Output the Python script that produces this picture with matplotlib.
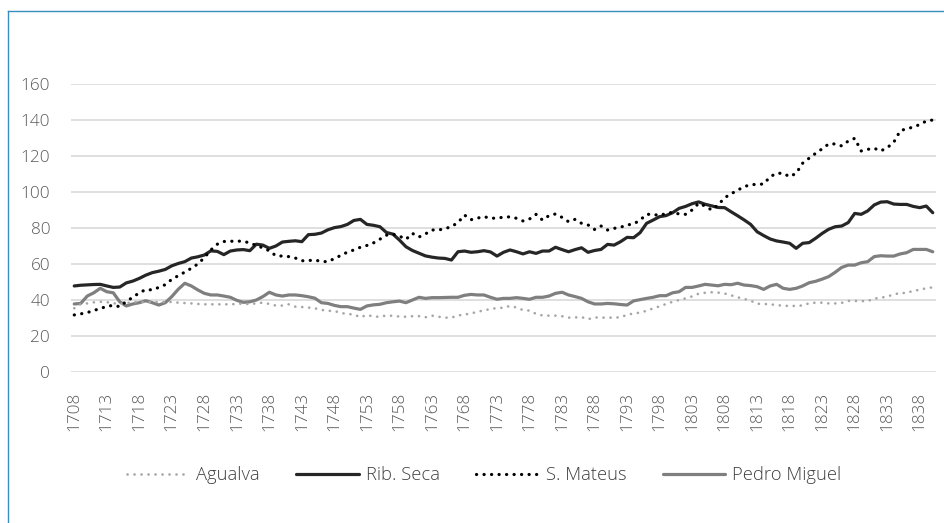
import numpy as np
import matplotlib
matplotlib.use("Agg")
import matplotlib.pyplot as plt
from matplotlib.lines import Line2D

start_year = 1708

agualva = [35.4, 37.8, 38.1, 38.7, 39.0, 38.8, 38.2, 37.8, 38.3, 38.8,
           38.9, 38.9, 38.8, 38.9, 38.9, 38.9, 38.5, 38.3, 38.1, 37.8,
           37.6, 37.6, 37.6, 37.6, 37.6, 37.8, 38.1, 37.6, 38.2, 38.5,
           37.8, 36.9, 36.9, 37.6, 36.3, 36.1, 35.8, 35.4, 34.5, 34.0,
           33.9, 32.8, 32.2, 32.0, 30.4, 31.7, 30.8, 30.7, 31.4, 31.2,
           30.8, 30.7, 31.0, 31.0, 30.4, 31.3, 30.7, 30.2, 30.2, 31.4,
           31.9, 32.5, 33.5, 34.2, 35.0, 35.5, 35.7, 36.7, 35.8, 34.4,
           34.1, 32.3, 31.4, 31.3, 31.3, 31.0, 30.2, 30.3, 30.5, 29.3,
           30.3, 30.2, 30.2, 30.2, 30.4, 31.8, 32.5, 33.0, 34.0, 35.3,
           36.5, 37.8, 39.0, 40.0, 40.9, 42.0, 43.5, 44.0, 44.3, 44.1,
           43.6, 42.6, 41.5, 40.6, 39.6, 37.9, 37.8, 37.6, 37.2, 36.8,
           36.7, 36.7, 37.0, 38.2, 38.5, 38.5, 38.1, 38.1, 38.4, 39.5,
           39.5, 39.4, 39.4, 40.8, 41.2, 42.0, 43.0, 44.0, 43.8, 45.2,
           45.6, 46.6, 47.0]

rib_seca = [47.8, 48.2, 48.4, 48.6, 48.7, 47.8, 47.0, 47.2, 49.5, 50.5,
            52.0, 53.8, 55.2, 56.0, 57.0, 59.0, 60.3, 61.3, 63.3, 64.0,
            65.0, 67.3, 67.0, 65.2, 67.2, 67.8, 68.0, 67.4, 71.0, 70.5,
            68.7, 70.0, 72.2, 72.6, 72.9, 72.4, 76.3, 76.5, 77.2, 79.0,
            80.2, 80.8, 82.0, 84.2, 84.8, 82.0, 81.5, 80.7, 77.5, 76.6,
            73.3, 69.6, 67.5, 66.0, 64.5, 63.8, 63.3, 63.1, 62.2, 66.8,
            67.2, 66.5, 66.8, 67.4, 66.7, 64.4, 66.5, 67.8, 66.8, 65.6,
            66.8, 65.9, 67.2, 67.2, 69.3, 68.0, 66.8, 68.0, 69.0, 66.5,
            67.5, 68.1, 70.9, 70.5, 72.4, 74.8, 74.6, 77.4, 82.6, 84.4,
            86.3, 86.9, 88.5, 90.9, 92.0, 93.5, 94.5, 93.2, 92.3, 91.4,
            91.3, 89.0, 86.8, 84.5, 82.0, 77.9, 75.8, 73.9, 72.8, 72.2,
            71.5, 68.7, 71.5, 71.9, 74.3, 77.0, 79.3, 80.7, 81.1, 83.0,
            88.1, 87.6, 89.5, 92.8, 94.4, 94.6, 93.3, 93.1, 93.1, 92.0,
            91.3, 92.2, 88.5]

s_mateus = [31.7, 32.3, 33.0, 34.2, 35.2, 36.5, 37.0, 36.3, 39.2, 41.5,
            44.0, 45.8, 45.6, 47.0, 48.5, 51.5, 53.5, 55.5, 57.6, 60.0,
            63.5, 67.8, 71.0, 72.5, 72.6, 72.8, 72.5, 71.8, 70.2, 69.0,
            67.3, 64.6, 64.4, 64.1, 63.3, 61.8, 61.9, 62.2, 61.4, 61.3,
            63.0, 64.8, 66.6, 67.8, 69.3, 70.3, 71.7, 73.8, 76.0, 76.6,
            75.5, 73.7, 77.0, 75.0, 76.7, 78.9, 78.9, 79.6, 80.8, 83.0,
            87.2, 84.6, 85.5, 86.3, 85.4, 85.5, 86.0, 86.2, 85.4, 83.9,
            85.0, 87.6, 84.4, 86.9, 87.8, 85.9, 83.5, 84.8, 82.6, 81.7,
            79.2, 81.1, 78.9, 79.8, 80.4, 81.7, 82.2, 84.4, 87.6, 87.6,
            86.9, 88.1, 88.7, 87.8, 87.6, 90.0, 93.7, 92.2, 90.0, 92.8,
            96.8, 99.0, 101.0, 103.0, 104.0, 104.3, 104.4, 108.5, 110.4, 110.4,
            108.5, 110.4, 116.0, 118.8, 121.5, 124.0, 126.7, 126.7, 125.6, 128.3,
            129.8, 122.8, 123.7, 124.3, 122.8, 124.6, 127.6, 134.0, 135.2, 136.0,
            137.5, 139.4, 140.0]

pedro_miguel = [37.8, 38.1, 42.2, 44.0, 46.5, 44.6, 44.0, 39.0, 36.7, 37.8,
                38.5, 39.6, 38.5, 37.2, 38.5, 41.9, 46.0, 49.3, 47.8, 45.6,
                43.7, 42.8, 42.8, 42.2, 41.5, 39.8, 38.7, 39.0, 40.0, 41.9,
                44.3, 42.8, 42.2, 42.8, 42.8, 42.4, 41.8, 41.0, 38.5, 38.1,
                37.0, 36.3, 36.3, 35.5, 34.8, 36.7, 37.3, 37.6, 38.5, 39.0,
                39.4, 38.5, 40.0, 41.5, 40.9, 41.3, 41.3, 41.4, 41.5, 41.5,
                42.6, 43.1, 42.8, 42.8, 41.5, 40.4, 40.9, 40.9, 41.3, 40.9,
                40.4, 41.5, 41.5, 42.2, 43.7, 44.3, 42.8, 41.9, 40.9, 39.0,
                37.8, 37.8, 38.1, 37.9, 37.5, 37.2, 39.5, 40.2, 40.9, 41.5,
                42.4, 42.4, 44.0, 44.6, 47.0, 47.0, 47.8, 48.7, 48.3, 47.9,
                48.7, 48.5, 49.3, 48.3, 48.0, 47.4, 45.9, 47.8, 48.7, 46.5,
                45.9, 46.5, 47.8, 49.6, 50.4, 51.6, 53.0, 55.4, 58.1, 59.4,
                59.4, 60.7, 61.3, 64.1, 64.6, 64.4, 64.4, 65.6, 66.3, 68.1,
                68.1, 68.1, 66.8]

series_names = ["Agualva", "Rib. Seca", "S. Mateus", "Pedro Miguel"]
y_ticks = [0, 20, 40, 60, 80, 100, 120, 140, 160]

years = np.arange(start_year, start_year + len(rib_seca))
x_tick_years = list(range(1708, 1840, 5))

plt.rcParams['font.family'] = ['Open Sans', 'DejaVu Sans']
plt.rcParams['font.weight'] = 'light'
text_color = '#595959'

fig = plt.figure(figsize=(9.44, 5.23), dpi=100)
ax = fig.add_axes([71/944, 1 - 372/523, (936 - 71)/944, (372 - 84)/523])

dot = (0, (0.05, 2.3))
ax.plot(years[:len(agualva)], agualva, color='#a6a6a6', lw=1.9,
        linestyle=(0, (0.05, 2.6)), dash_capstyle='round', label=series_names[0], zorder=3)
ax.plot(years[:len(rib_seca)], rib_seca, color='#262626', lw=2.3,
        solid_capstyle='round', solid_joinstyle='round', label=series_names[1], zorder=4)
ax.plot(years[:len(s_mateus)], s_mateus, color='#000000', lw=2.3,
        linestyle=dot, dash_capstyle='round', label=series_names[2], zorder=5)
ax.plot(years[:len(pedro_miguel)], pedro_miguel, color='#7f7f7f', lw=2.3,
        solid_capstyle='round', solid_joinstyle='round', label=series_names[3], zorder=2)

ax.set_xlim(start_year - 0.5, start_year + len(rib_seca) - 0.5)
ax.set_ylim(0, 160)
ax.set_yticks(y_ticks)
ax.set_xticks(x_tick_years)
ax.set_xticklabels([str(y) for y in x_tick_years], rotation=90)
ax.tick_params(axis='both', length=0, labelsize=12.3, colors=text_color)
ax.tick_params(axis='y', pad=15)
ax.tick_params(axis='x', pad=14)
ax.yaxis.grid(True, color='#d9d9d9', lw=1.2)
ax.set_axisbelow(True)
for s in ax.spines.values():
    s.set_visible(False)

handles, labels = ax.get_legend_handles_labels()
leg = fig.legend(handles, labels, loc='center', ncol=4,
                 bbox_to_anchor=(484/944, 1 - 475/523), frameon=False,
                 fontsize=13.2, handlelength=3.4, handletextpad=0.38,
                 columnspacing=2.0, labelcolor='#404040')

# blue frame (left and top)
fig.add_artist(Line2D([7.5/944, 7.5/944], [0, 1 - 10.5/523], color='#3a8dbd', lw=1.0,
                      transform=fig.transFigure))
fig.add_artist(Line2D([7.5/944, 1], [1 - 10.5/523, 1 - 10.5/523], color='#3a8dbd', lw=1.0,
                      transform=fig.transFigure))

fig.savefig('out.png', dpi=100)
